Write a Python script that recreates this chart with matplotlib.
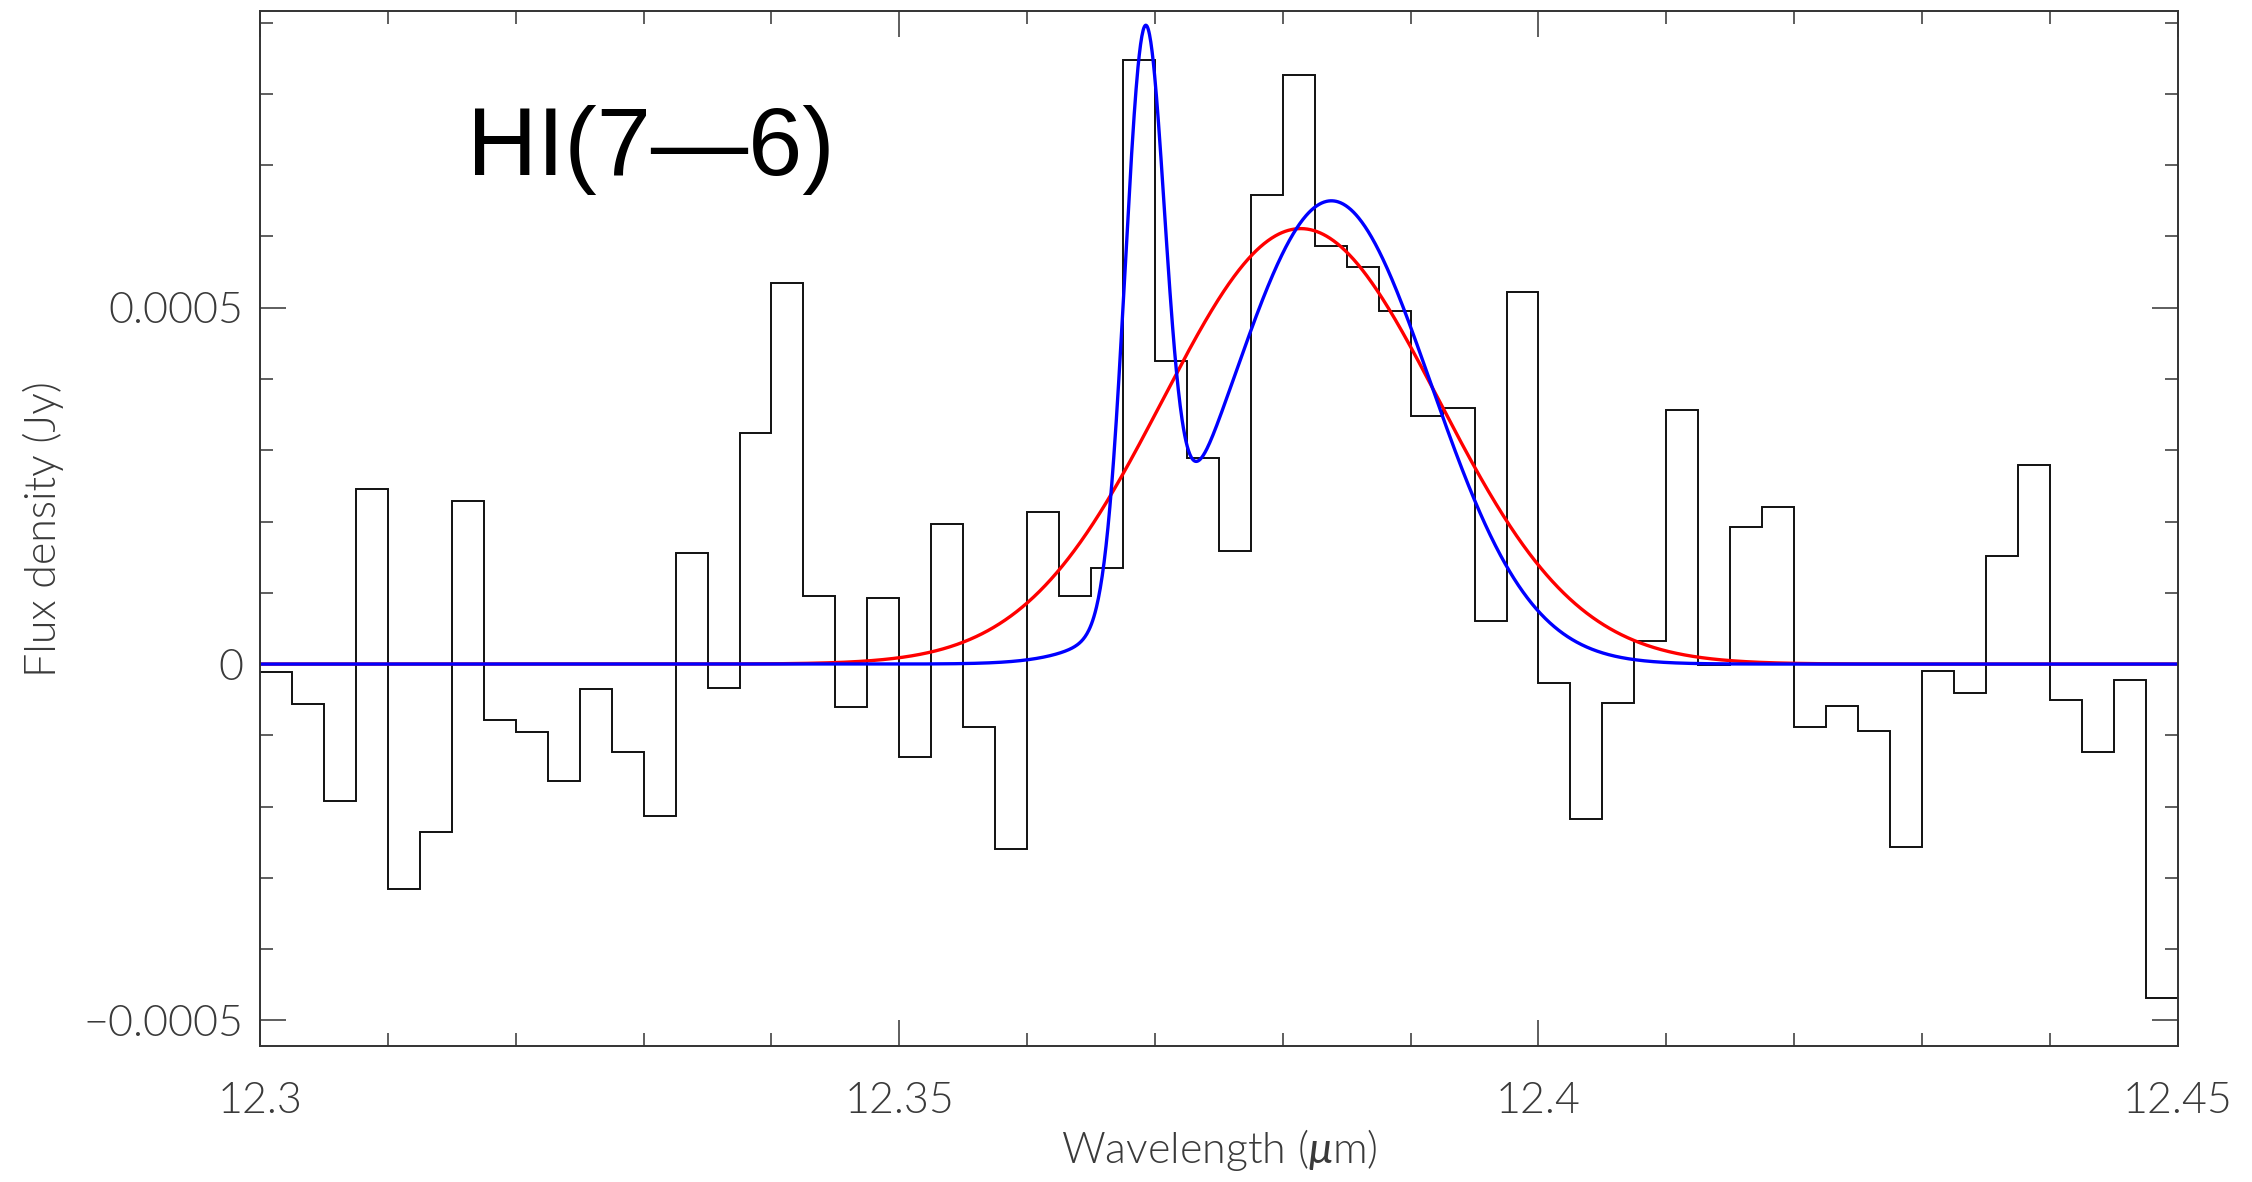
import matplotlib

matplotlib.use("Agg")

import matplotlib.pyplot as plt
from matplotlib.ticker import MultipleLocator
import numpy as np


# binned spectrum: 60 channels of 0.0025 um starting at 12.3 um
BIN_START = 12.3
BIN_WIDTH = 0.0025
FLUX = [
    -1.1e-5, -5.6e-5, -1.92e-4, 2.46e-4, -3.15e-4, -2.35e-4, 2.29e-4, -7.8e-5,
    -9.5e-5, -1.64e-4, -3.5e-5, -1.24e-4, -2.13e-4, 1.56e-4, -3.4e-5, 3.24e-4,
    5.35e-4, 9.5e-5, -6.0e-5, 9.3e-5, -1.31e-4, 1.96e-4, -8.8e-5, -2.59e-4,
    2.14e-4, 9.5e-5, 1.35e-4, 8.48e-4, 4.25e-4, 2.89e-4, 1.58e-4, 6.58e-4,
    8.27e-4, 5.87e-4, 5.57e-4, 4.95e-4, 3.48e-4, 3.59e-4, 6.1e-5, 5.22e-4,
    -2.7e-5, -2.17e-4, -5.4e-5, 3.2e-5, 3.56e-4, -2.0e-6, 1.93e-4, 2.2e-4,
    -8.8e-5, -5.9e-5, -9.4e-5, -2.57e-4, -1.0e-5, -4.1e-5, 1.51e-4, 2.79e-4,
    -5.0e-5, -1.24e-4, -2.2e-5, -4.69e-4,
]

# fitted line profiles (amplitude in Jy, centre and sigma in um)
SINGLE_FIT = [(6.11e-4, 12.3814, 0.0108)]
DOUBLE_FIT = [(7.84e-4, 12.3692, 0.00155), (6.5e-4, 12.3838, 0.00777)]

LINE_LABEL = "HI(7\u20146)"
X_TICKS = [12.3, 12.35, 12.4, 12.45]
X_TICK_LABELS = ["12.3", "12.35", "12.4", "12.45"]
Y_TICKS = [-0.0005, 0.0, 0.0005]
Y_TICK_LABELS = ["\u22120.0005", "0", "0.0005"]

TEXT_COLOR = "#3a3a3a"
LIGHT = 300


def gauss_sum(x, components):
    y = np.zeros_like(x)
    for amp, cen, sig in components:
        y += amp * np.exp(-0.5 * ((x - cen) / sig) ** 2)
    return y


plt.rcParams["mathtext.fontset"] = "custom"
plt.rcParams["mathtext.it"] = "Lato:italic"
plt.rcParams["mathtext.rm"] = "Lato"

fig = plt.figure(figsize=(22.52, 11.82), dpi=100)
ax = fig.add_axes([0.1155, 0.115, 0.8515, 0.8755])

edges = BIN_START + BIN_WIDTH * np.arange(len(FLUX) + 1)
ax.stairs(FLUX, edges, color="#111111", linewidth=1.4, baseline=None)

wl = np.linspace(12.3, 12.45, 3000)
ax.plot(wl, gauss_sum(wl, SINGLE_FIT), color="#ff0000", linewidth=2.4)
ax.plot(wl, gauss_sum(wl, DOUBLE_FIT), color="#0000ff", linewidth=2.4)

ax.set_xlim(12.3, 12.45)
ax.set_ylim(-0.000536, 0.000916)

ax.set_xticks(X_TICKS)
ax.set_xticklabels(X_TICK_LABELS)
ax.set_yticks(Y_TICKS)
ax.set_yticklabels(Y_TICK_LABELS)
ax.xaxis.set_minor_locator(MultipleLocator(0.01))
ax.yaxis.set_minor_locator(MultipleLocator(0.0001))

ax.tick_params(which="both", direction="in", top=True, right=True,
               color="#333333", width=1.1)
ax.tick_params(which="major", length=19, labelsize=31, labelcolor=TEXT_COLOR)
ax.tick_params(which="minor", length=9.5)
ax.tick_params(axis="x", which="major", pad=26)
ax.tick_params(axis="y", which="major", pad=12)
for lab in ax.get_xticklabels() + ax.get_yticklabels():
    lab.set_fontfamily("Lato")
    lab.set_fontweight(LIGHT)

for spine in ax.spines.values():
    spine.set_linewidth(1.4)
    spine.set_color("#333333")

ax.set_xlabel("Wavelength ($\\mu$m)", fontsize=31, family="Lato",
              fontweight=LIGHT, color=TEXT_COLOR, labelpad=4)
ax.set_ylabel("Flux density (Jy)", fontsize=31, family="Lato",
              fontweight=LIGHT, color=TEXT_COLOR, labelpad=14)

ax.text(0.108, 0.842, LINE_LABEL, transform=ax.transAxes, fontsize=70,
        family="Liberation Sans", color="black", ha="left", va="baseline")

fig.savefig("out.png", dpi=100)
